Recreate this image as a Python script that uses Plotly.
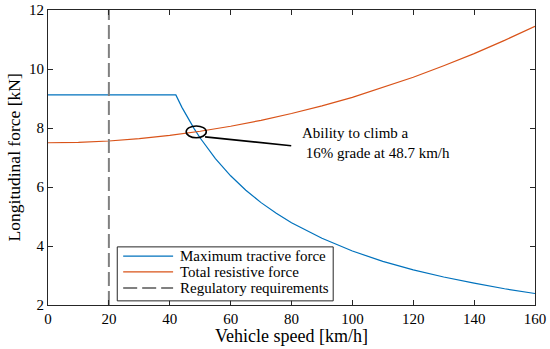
import plotly.graph_objects as go

# Maximum tractive force (kN) vs speed (km/h)
tractive_speed = [0, 42, 44, 46, 48, 50, 55, 60, 65, 70, 75, 80, 90, 100, 110, 120, 130, 140, 150, 160]
tractive_force = [9.12, 9.12, 8.70, 8.33, 7.98, 7.66, 6.96, 6.38, 5.89, 5.47, 5.11, 4.79, 4.26, 3.83, 3.48, 3.19, 2.95, 2.74, 2.55, 2.39]

# Total resistive force (kN)
resist_speed = [0, 10, 20, 30, 40, 50, 60, 70, 80, 90, 100, 110, 120, 130, 140, 150, 160]
resist_force = [7.50, 7.515, 7.56, 7.64, 7.75, 7.89, 8.06, 8.26, 8.49, 8.75, 9.04, 9.37, 9.72, 10.11, 10.52, 10.97, 11.45]

# Regulatory requirement speed
reg_speed = [20, 20]
reg_force = [2, 12]

# Intersection point
cross_speed = 48.7
cross_force = 7.87

x_ticks = [0, 20, 40, 60, 80, 100, 120, 140, 160]
y_ticks = [2, 4, 6, 8, 10, 12]

series_names = ["Maximum tractive force", "Total resistive force", "Regulatory requirements"]
series_colors = ["#0072BD", "#D95319", "#808080"]

FONT = "Liberation Serif"
AX = "#262626"
DASH = "14px,5px"

fig = go.Figure()
fig.add_trace(go.Scatter(x=tractive_speed, y=tractive_force, mode="lines",
                         name=series_names[0], showlegend=False, hoverinfo="skip",
                         line=dict(color=series_colors[0], width=1.2)))
fig.add_trace(go.Scatter(x=resist_speed, y=resist_force, mode="lines",
                         name=series_names[1], showlegend=False, hoverinfo="skip",
                         line=dict(color=series_colors[1], width=1.2)))
fig.add_trace(go.Scatter(x=reg_speed, y=reg_force, mode="lines",
                         name=series_names[2], showlegend=False, hoverinfo="skip",
                         line=dict(color=series_colors[2], width=2, dash=DASH)))

# intersection marker and callout
fig.add_shape(type="circle", xref="x", yref="y",
              x0=cross_speed - 3.3, x1=cross_speed + 3.3,
              y0=cross_force - 0.2, y1=cross_force + 0.2,
              line=dict(color="black", width=1.6))
fig.add_shape(type="line", xref="x", yref="y",
              x0=51.6, y0=7.70, x1=79.9, y1=7.40,
              line=dict(color="black", width=1.6))
fig.add_annotation(x=82.8, y=7.48, xref="x", yref="y",
                   text="Ability to climb a<br>&nbsp;16% grade at 48.7 km/h",
                   showarrow=False, xanchor="left", yanchor="middle", align="left",
                   font=dict(family=FONT, size=15, color="black"))

# legend box (drawn manually to match compact MATLAB legend)
fig.add_shape(type="rect", xref="x", yref="y", x0=22.75, x1=93.7, y0=2.14, y1=3.97,
              fillcolor="white", line=dict(color=AX, width=1), layer="above")
leg_y = [3.66, 3.12, 2.58]
leg_w = [1.2, 1.2, 2]
leg_dash = ["solid", "solid", DASH]
for i in range(3):
    fig.add_shape(type="line", xref="x", yref="y", x0=24.7, x1=41.1, y0=leg_y[i], y1=leg_y[i],
                  line=dict(color=series_colors[i], width=leg_w[i], dash=leg_dash[i]), layer="above")
    fig.add_annotation(x=42.8, y=leg_y[i], xref="x", yref="y", text=series_names[i],
                       showarrow=False, xanchor="left", yanchor="middle",
                       font=dict(family=FONT, size=15, color="black"))

# axis titles
fig.add_annotation(x=0.5, y=-0.105, xref="paper", yref="paper", text="Vehicle speed [km/h]",
                   showarrow=False, xanchor="center", yanchor="middle",
                   font=dict(family=FONT, size=18, color="black"))
fig.add_annotation(x=-0.070, y=0.5, xref="paper", yref="paper", text="Longitudinal force [kN]",
                   showarrow=False, xanchor="center", yanchor="middle", textangle=-90,
                   font=dict(family=FONT, size=17.5, color="black"))

fig.update_xaxes(range=[0, 160], tickvals=x_ticks, ticks="inside", ticklen=5,
                 mirror="ticks", showline=True, linecolor=AX, linewidth=1,
                 tickcolor=AX, showgrid=False, zeroline=False, automargin=False,
                 tickfont=dict(family=FONT, size=15, color="black"))
fig.update_yaxes(range=[2, 12], tickvals=y_ticks, ticks="inside", ticklen=5,
                 mirror="ticks", showline=True, linecolor=AX, linewidth=1,
                 tickcolor=AX, showgrid=False, zeroline=False, automargin=False,
                 tickfont=dict(family=FONT, size=15, color="black"))

fig.update_layout(width=550, height=349, margin=dict(l=48, r=15, t=10, b=44),
                  plot_bgcolor="white", paper_bgcolor="white",
                  font=dict(family=FONT, color="black"), showlegend=False,
                  hovermode=False)

fig.write_html("out.html", config={"displayModeBar": False, "staticPlot": True},
               post_script="document.body.style.margin='0';document.body.style.overflow='hidden';")
